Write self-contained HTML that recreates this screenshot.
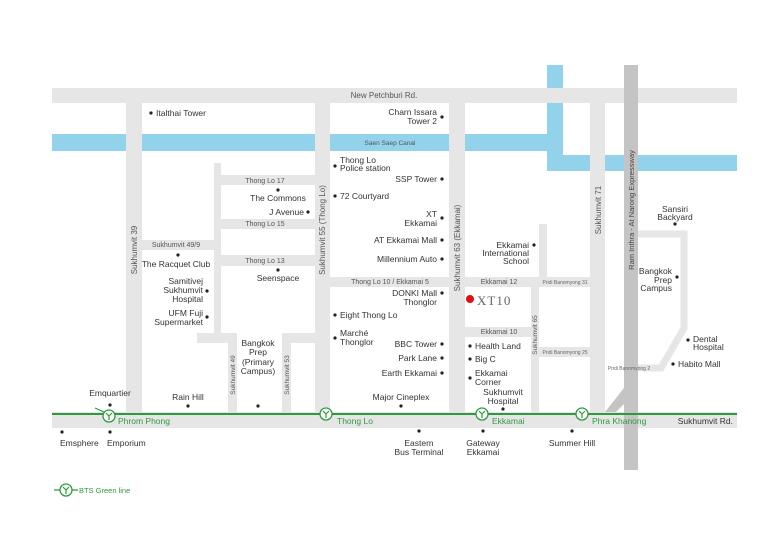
<!DOCTYPE html>
<html><head><meta charset="utf-8"><style>
html,body{margin:0;padding:0;background:#fff}
svg{display:block}
text{font-family:"Liberation Sans",sans-serif;fill:#333}
.p{font-size:8.5px}
.r{font-size:7px;fill:#555}
.s{font-size:5px;fill:#666}
.g{font-size:8.5px;fill:#2e9a3e}
</style></head><body>
<svg width="776" height="550" viewBox="0 0 776 550" xmlns="http://www.w3.org/2000/svg">
<rect width="776" height="550" fill="#fff"/>
<g fill="#92d2ea">
<rect x="52" y="134" width="413" height="17"/>
<rect x="465" y="134" width="90" height="17"/>
<rect x="547" y="65" width="16" height="106"/>
<rect x="547" y="155" width="190" height="16"/>
</g>
<g fill="#e6e6e6">
<rect x="52" y="88" width="685" height="15"/>
<rect x="126" y="103" width="16" height="310"/>
<rect x="315" y="103" width="15" height="310"/>
<rect x="449" y="103" width="16" height="310"/>
<rect x="590" y="103" width="15" height="310"/>
<rect x="52" y="412" width="685" height="16"/>
<rect x="214" y="163" width="7" height="180"/>
<rect x="221" y="175" width="94" height="10"/>
<rect x="221" y="219" width="94" height="10"/>
<rect x="221" y="255" width="94" height="11"/>
<rect x="142" y="240" width="72" height="10"/>
<rect x="197" y="333" width="40" height="10"/>
<rect x="228" y="333" width="9" height="80"/>
<rect x="282" y="333" width="33" height="10"/>
<rect x="282" y="333" width="9" height="80"/>
<rect x="330" y="277" width="119" height="10"/>
<rect x="465" y="277" width="125" height="10"/>
<rect x="539" y="224" width="8" height="53"/>
<rect x="531" y="287" width="8" height="126"/>
<rect x="465" y="327" width="66" height="10"/>
<rect x="539" y="347" width="51" height="10"/>
</g>
<path d="M638 234 H684 V328 L661 368 H638" fill="none" stroke="#e6e6e6" stroke-width="7"/>
<polygon points="605,412 624,388 624,404 616,412" fill="#c4c4c4"/>
<rect x="624" y="65" width="14" height="405" fill="#c4c4c4"/>
<rect x="52" y="413" width="685" height="2" fill="#2e9a3e"/>
<g fill="#fff" stroke="#2e9a3e" stroke-width="1.3">
<circle cx="109" cy="416" r="6"/><circle cx="326" cy="414" r="6"/><circle cx="482" cy="414" r="6"/><circle cx="582" cy="414" r="6"/>
<circle cx="66" cy="490" r="6"/>
</g>
<g stroke="#2e9a3e" stroke-width="1.2" fill="none">
<path d="M106 413 L109 416 L112 413 M109 416 V420"/><path d="M323 411 L326 414 L329 411 M326 414 V418"/>
<path d="M479 411 L482 414 L485 411 M482 414 V418"/><path d="M579 411 L582 414 L585 411 M582 414 V418"/>
<path d="M63 487 L66 490 L69 487 M66 490 V494"/><path d="M54 490 H60 M72 490 H78"/>
<path d="M95 408 L104 412"/>
</g>
<circle cx="470" cy="299" r="4" fill="#e01010"/>
<text x="477" y="305" style="font-size:13px;font-family:'Liberation Serif',serif;fill:#666;letter-spacing:1px">XT10</text>
<text class="r" x="384" y="98" text-anchor="middle" style="font-size:8px">New Petchburi Rd.</text>
<text class="r" x="390" y="145" text-anchor="middle" style="font-size:6.5px">Saen Saep Canal</text>
<text class="r" x="265" y="183" text-anchor="middle">Thong Lo 17</text>
<text class="r" x="265" y="226" text-anchor="middle">Thong Lo 15</text>
<text class="r" x="265" y="263" text-anchor="middle">Thong Lo 13</text>
<text class="r" x="176" y="247" text-anchor="middle">Sukhumvit 49/9</text>
<text class="r" x="390" y="284" text-anchor="middle">Thong Lo 10 / Ekkamai 5</text>
<text class="r" x="499" y="284" text-anchor="middle">Ekkamai 12</text>
<text class="r" x="499" y="334" text-anchor="middle">Ekkamai 10</text>
<text class="s" x="565" y="284" text-anchor="middle">Pridi Banomyong 31</text>
<text class="s" x="565" y="354" text-anchor="middle">Pridi Banomyong 25</text>
<text class="s" x="629" y="370" text-anchor="middle">Pridi Banomyong 2</text>
<g class="r">
<text class="r" transform="translate(137,250) rotate(-90)" text-anchor="middle" style="font-size:8px">Sukhumvit 39</text>
<text class="r" transform="translate(325,230) rotate(-90)" text-anchor="middle" style="font-size:8px">Sukhumvit 55 (Thong Lo)</text>
<text class="r" transform="translate(460,248) rotate(-90)" text-anchor="middle" style="font-size:8px">Sukhumvit 63 (Ekkamai)</text>
<text class="r" transform="translate(601,210) rotate(-90)" text-anchor="middle" style="font-size:8px">Sukhumvit 71</text>
<text class="r" transform="translate(634,210) rotate(-90)" text-anchor="middle" style="font-size:7.5px;fill:#444">Ram Inthra - At Narong Expressway</text>
<text class="r" transform="translate(537,335) rotate(-90)" text-anchor="middle" style="font-size:6.5px">Sukhumvit 65</text>
<text class="r" transform="translate(235,375) rotate(-90)" text-anchor="middle" style="font-size:6.5px">Sukhumvit 49</text>
<text class="r" transform="translate(289,375) rotate(-90)" text-anchor="middle" style="font-size:6.5px">Sukhumvit 53</text>
</g>
<text class="g" x="118" y="424">Phrom Phong</text>
<text class="g" x="337" y="424">Thong Lo</text>
<text class="g" x="492" y="424">Ekkamai</text>
<text class="g" x="592" y="424">Phra Khanong</text>
<text class="p" x="733" y="424" text-anchor="end">Sukhumvit Rd.</text>
<text class="g" x="79" y="493" style="font-size:7.5px">BTS Green line</text>
<g fill="#222">
<circle cx="151" cy="113" r="1.6"/><circle cx="442" cy="117" r="1.6"/><circle cx="335" cy="166" r="1.6"/>
<circle cx="442" cy="179" r="1.6"/><circle cx="335" cy="196" r="1.6"/><circle cx="442" cy="218" r="1.6"/>
<circle cx="442" cy="240" r="1.6"/><circle cx="442" cy="259" r="1.6"/><circle cx="442" cy="293" r="1.6"/>
<circle cx="335" cy="315" r="1.6"/><circle cx="335" cy="338" r="1.6"/><circle cx="442" cy="344" r="1.6"/>
<circle cx="442" cy="358" r="1.6"/><circle cx="442" cy="373" r="1.6"/><circle cx="401" cy="406" r="1.6"/>
<circle cx="419" cy="431" r="1.6"/><circle cx="483" cy="431" r="1.6"/><circle cx="572" cy="431" r="1.6"/>
<circle cx="62" cy="432" r="1.6"/><circle cx="110" cy="432" r="1.6"/><circle cx="110" cy="405" r="1.6"/>
<circle cx="188" cy="406" r="1.6"/><circle cx="258" cy="406" r="1.6"/><circle cx="278" cy="190" r="1.6"/>
<circle cx="308" cy="212" r="1.6"/><circle cx="178" cy="255" r="1.6"/><circle cx="278" cy="270" r="1.6"/>
<circle cx="207" cy="291" r="1.6"/><circle cx="207" cy="317" r="1.6"/><circle cx="534" cy="245" r="1.6"/>
<circle cx="470" cy="346" r="1.6"/><circle cx="470" cy="359" r="1.6"/><circle cx="470" cy="378" r="1.6"/>
<circle cx="503" cy="409" r="1.6"/><circle cx="675" cy="224" r="1.6"/><circle cx="677" cy="277" r="1.6"/>
<circle cx="688" cy="340" r="1.6"/><circle cx="673" cy="364" r="1.6"/>
</g>
<g class="p">
<text class="p" x="156" y="116">Italthai Tower</text>
<text class="p" x="437" y="115" text-anchor="end">Charn Issara</text>
<text class="p" x="437" y="124" text-anchor="end">Tower 2</text>
<text class="p" x="340" y="163">Thong Lo</text>
<text class="p" x="340" y="171">Police station</text>
<text class="p" x="437" y="182" text-anchor="end">SSP Tower</text>
<text class="p" x="340" y="199">72 Courtyard</text>
<text class="p" x="437" y="217" text-anchor="end">XT</text>
<text class="p" x="437" y="226" text-anchor="end">Ekkamai</text>
<text class="p" x="437" y="243" text-anchor="end">AT Ekkamai Mall</text>
<text class="p" x="437" y="262" text-anchor="end">Millennium Auto</text>
<text class="p" x="437" y="296" text-anchor="end">DONKI Mall</text>
<text class="p" x="437" y="305" text-anchor="end">Thonglor</text>
<text class="p" x="340" y="318">Eight Thong Lo</text>
<text class="p" x="340" y="336">Marché</text>
<text class="p" x="340" y="345">Thonglor</text>
<text class="p" x="437" y="347" text-anchor="end">BBC Tower</text>
<text class="p" x="437" y="361" text-anchor="end">Park Lane</text>
<text class="p" x="437" y="376" text-anchor="end">Earth Ekkamai</text>
<text class="p" x="401" y="400" text-anchor="middle">Major Cineplex</text>
<text class="p" x="419" y="446" text-anchor="middle">Eastern</text>
<text class="p" x="419" y="455" text-anchor="middle">Bus Terminal</text>
<text class="p" x="483" y="446" text-anchor="middle">Gateway</text>
<text class="p" x="483" y="455" text-anchor="middle">Ekkamai</text>
<text class="p" x="572" y="446" text-anchor="middle">Summer Hill</text>
<text class="p" x="60" y="446">Emsphere</text>
<text class="p" x="107" y="446">Emporium</text>
<text class="p" x="110" y="396" text-anchor="middle">Emquartier</text>
<text class="p" x="188" y="400" text-anchor="middle">Rain Hill</text>
<text class="p" x="258" y="346" text-anchor="middle">Bangkok</text>
<text class="p" x="258" y="355" text-anchor="middle">Prep</text>
<text class="p" x="258" y="365" text-anchor="middle">(Primary</text>
<text class="p" x="258" y="374" text-anchor="middle">Campus)</text>
<text class="p" x="278" y="201" text-anchor="middle">The Commons</text>
<text class="p" x="304" y="215" text-anchor="end">J Avenue</text>
<text class="p" x="176" y="267" text-anchor="middle">The Racquet Club</text>
<text class="p" x="278" y="281" text-anchor="middle">Seenspace</text>
<text class="p" x="203" y="284" text-anchor="end">Samitivej</text>
<text class="p" x="203" y="293" text-anchor="end">Sukhumvit</text>
<text class="p" x="203" y="302" text-anchor="end">Hospital</text>
<text class="p" x="203" y="316" text-anchor="end">UFM Fuji</text>
<text class="p" x="203" y="325" text-anchor="end">Supermarket</text>
<text class="p" x="529" y="248" text-anchor="end">Ekkamai</text>
<text class="p" x="529" y="256" text-anchor="end">International</text>
<text class="p" x="529" y="264" text-anchor="end">School</text>
<text class="p" x="475" y="349">Health Land</text>
<text class="p" x="475" y="362">Big C</text>
<text class="p" x="475" y="376">Ekkamai</text>
<text class="p" x="475" y="385">Corner</text>
<text class="p" x="503" y="395" text-anchor="middle">Sukhumvit</text>
<text class="p" x="503" y="404" text-anchor="middle">Hospital</text>
<text class="p" x="675" y="212" text-anchor="middle">Sansiri</text>
<text class="p" x="675" y="220" text-anchor="middle">Backyard</text>
<text class="p" x="672" y="274" text-anchor="end">Bangkok</text>
<text class="p" x="672" y="283" text-anchor="end">Prep</text>
<text class="p" x="672" y="291" text-anchor="end">Campus</text>
<text class="p" x="693" y="342">Dental</text>
<text class="p" x="693" y="350">Hospital</text>
<text class="p" x="678" y="367">Habito Mall</text>
</g>
</svg>
</body></html>
